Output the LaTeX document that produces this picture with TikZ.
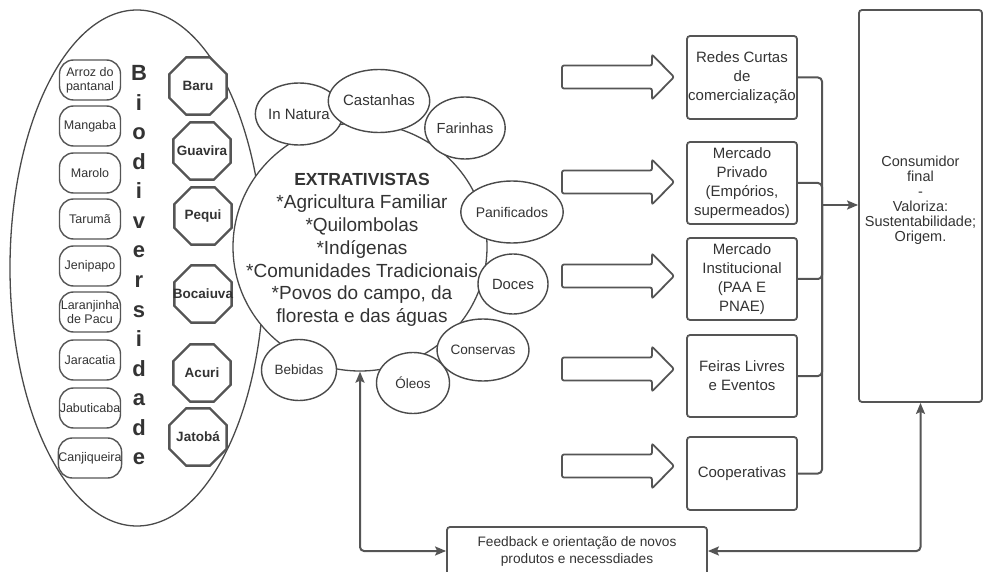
\documentclass[tikz,border=0pt]{standalone}
\usepackage{fontspec}
\setmainfont{Liberation Sans}
\usetikzlibrary{shapes.geometric,arrows.meta}
\definecolor{linec}{HTML}{555555}
\definecolor{thinc}{HTML}{4A4A4A}
\definecolor{textc}{HTML}{333333}
\newcommand{\tightlines}{\lineskiplimit=-50pt\relax}
\begin{document}
\begin{tikzpicture}[x=1pt,y=-1pt,
  >={Stealth[length=11pt,width=9pt,inset=2pt]},
  every node/.style={text=textc},
  pill/.style={draw=linec, line width=1.4pt, rounded corners=14pt, minimum width=61pt, minimum height=40pt, inner sep=0pt, align=center, fill=white, font=\fontsize{12.5}{14}\selectfont},
  octo/.style={regular polygon, regular polygon sides=8, draw=linec, line width=2.4pt, minimum size=62pt, inner sep=0pt, fill=white, font=\bfseries\fontsize{13.5}{16}\selectfont},
  letter/.style={font=\bfseries\fontsize{22}{22}\selectfont, inner sep=0pt, anchor=base},
  sm/.style={ellipse, draw=thinc, line width=1.4pt, fill=white, inner sep=0pt, minimum width=74pt, minimum height=62pt},
  barrow/.style={draw=linec, line width=1.8pt, rounded corners=2pt},
  rbox/.style={draw=linec, line width=1.8pt, rounded corners=3pt, minimum width=110pt, inner sep=0pt, align=center, font=\fontsize{15}{19}\selectfont},
  conn/.style={draw=linec, line width=2pt, rounded corners=4pt}
]
\useasboundingbox (0,0) rectangle (983,572);

% big ellipse
\node[ellipse, draw=thinc, line width=1.3pt, minimum width=254pt, minimum height=516pt, inner sep=0pt] (bio) at (137,268) {};

% pills
\node[pill] (p1) at (90,80) {Arroz do\\pantanal};
\node[pill] (p2) at (90,126) {Mangaba};
\node[pill] (p3) at (90,173) {Marolo};
\node[pill] (p4) at (90,219) {Tarumã};
\node[pill] (p5) at (90,266) {Jenipapo};
\node[pill] (p6) at (90,312) {Laranjinha\\de Pacu};
\node[pill] (p7) at (90,360) {Jaracatia};
\node[pill] (p8) at (90,408) {Jabuticaba};
\node[pill] (p9) at (90,458) {Canjiqueira};

% vertical word
\foreach \l [count=\i from 0] in {B,i,o,d,i,v,e,r,s,i,d,a,d,e}
  \node[letter] (L\i) at (139,81+29.5*\i) {\l};

% octagons
\node[octo] (o1) at (198,86) {\makebox[0pt]{Baru}};
\node[octo] (o2) at (202,151) {\makebox[0pt]{Guavira}};
\node[octo] (o3) at (203,216) {\makebox[0pt]{Pequi}};
\node[octo] (o4) at (203,294) {\makebox[0pt]{Bocaiuva}};
\node[octo] (o5) at (202,373) {\makebox[0pt]{Acuri}};
\node[octo] (o6) at (198,437) {\makebox[0pt]{Jatobá}};

% central circle
\node[ellipse, draw=thinc, line width=1.3pt, fill=white, minimum width=254pt, minimum height=248pt, inner sep=0pt] (extr) at (360,247) {};
\node[align=center, font=\fontsize{19}{22.9}\selectfont] (extrtext) at (362,250)
  {{\bfseries\fontsize{17.5}{22.9}\selectfont EXTRATIVISTAS}\\*Agricultura Familiar\\*Quilombolas\\*Indígenas\\*Comunidades Tradicionais\\*Povos do campo, da\\floresta e das águas};

% small ellipses
\node[sm, minimum width=75pt, font=\fontsize{15}{16}\selectfont] (e1) at (299,114) {In Natura};
\node[sm, minimum height=63pt, font=\fontsize{15}{16}\selectfont] (e2) at (379,101) {\raisebox{1pt}{Castanhas}};
\node[sm, font=\fontsize{14.6}{16}\selectfont] (e3) at (465,128) {Farinhas};
\node[sm, minimum width=70pt, font=\fontsize{14}{16}\selectfont] (e4) at (512,212) {Panificados};
\node[sm, minimum width=70pt, minimum height=60pt, font=\fontsize{14.8}{16}\selectfont] (e5) at (513,284) {Doces};
\node[sm, font=\fontsize{13.6}{16}\selectfont] (e6) at (483,350) {Conservas};
\node[sm, minimum width=73pt, minimum height=61pt, font=\fontsize{13.5}{16}\selectfont] (e7) at (413,383) {Óleos};
\node[sm, minimum width=75pt, minimum height=61pt, font=\fontsize{13.5}{16}\selectfont] (e8) at (299,370) {Bebidas};

% block arrows
\foreach \y in {77,182,276,369,466}
  \draw[barrow] (562,\y-11.5) -- (652,\y-11.5) -- (652,\y-22.5) -- (674,\y) -- (652,\y+22.5) -- (652,\y+11.5) -- (562,\y+11.5) -- cycle;

% right boxes
\node[rbox, minimum height=83pt] (r1) at (742,77.5) {Redes Curtas\\de\\comercialização};
\node[rbox, minimum height=82pt] (r2) at (742,183) {Mercado\\Privado\\(Empórios,\\supermeados)};
\node[rbox, minimum height=82pt] (r3) at (742,279) {Mercado\\Institucional\\(PAA E\\PNAE)};
\node[rbox, minimum height=82pt] (r4) at (742,376) {Feiras Livres\\e Eventos};
\node[rbox, minimum height=73pt] (r5) at (742,473.5) {Cooperativas};

% consumer
\node[draw=linec, line width=1.8pt, rounded corners=3pt, minimum width=123pt, minimum height=392pt, inner sep=0pt,
  label={[name=constext, align=center, yshift=6pt, font={\fontsize{14.5}{15}\selectfont\tightlines}, text=textc]center:Consumidor\\final\\-\\Valoriza:\\Sustentabilidade;\\Origem.}] (cons) at (920.5,206) {};

% feedback
\node[draw=linec, line width=1.8pt, rounded corners=3pt, minimum width=260pt, minimum height=48pt, inner sep=0pt, align=center, font=\fontsize{13.7}{17}\selectfont] (fb) at (577,551) {Feedback e orientação de novos\\produtos e necessdiades};

% bus connections
\coordinate (bus) at (822,205);
\foreach \n in {r1,r2,r3,r4,r5}
  \draw[conn] (\n.east) -| (bus);
\draw[conn, ->] (bus) -- (cons.west |- bus);

% feedback loops
\draw[conn, <->] (extr.south) |- (fb.west);
\draw[conn, <->] (fb.east) -| (cons.south);
\end{tikzpicture}
\end{document}
